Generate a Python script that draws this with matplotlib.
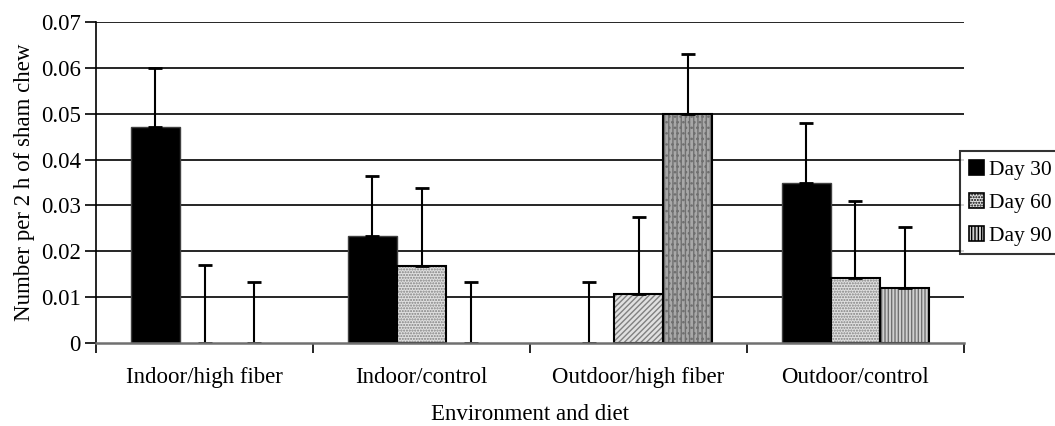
import matplotlib
matplotlib.use("Agg")
import matplotlib.pyplot as plt
import numpy as np
from matplotlib.patches import Patch

categories = ["Indoor/high fiber", "Indoor/control", "Outdoor/high fiber", "Outdoor/control"]
series = ["Day 30", "Day 60", "Day 90"]
day30 = [0.047, 0.0233, 0.0, 0.035]
day60 = [0.0, 0.0168, 0.0106, 0.0142]
day90 = [0.0, 0.0, 0.050, 0.012]
err30 = [0.013, 0.0132, 0.0134, 0.013]
err60 = [0.017, 0.017, 0.0169, 0.0167]
err90 = [0.0133, 0.0133, 0.0131, 0.0133]
yticks = [0, 0.01, 0.02, 0.03, 0.04, 0.05, 0.06, 0.07]
ytick_labels = ["0", "0.01", "0.02", "0.03", "0.04", "0.05", "0.06", "0.07"]

values = [day30, day60, day90]
errors = [err30, err60, err90]

plt.rcParams['font.family'] = ['Liberation Serif', 'DejaVu Serif']
FS = 16.5

fig = plt.figure(figsize=(10.55, 4.26), dpi=100)
ax = fig.add_axes([96/1055, 1-343/426, (964-96)/1055, (343-22)/426])

# styles per series; per-bar overrides
face = ['black', '#e0e0e0', '#d0d0d0']
hatch_col = [None, '#808080', '#707070']
hatch_def = [None, '......', '|||||']
hatch_override = {(1, 2): '//////', (2, 2): '||||...'}
face_override = {(2, 2): '#a8a8a8'}

w = 0.226
x = np.arange(len(categories))
offsets = [-w, 0, w]

for s in range(3):
    for i in range(len(categories)):
        v = values[s][i]
        xp = x[i] + offsets[s]
        if v > 0:
            fc = face_override.get((s, i), face[s])
            h = hatch_override.get((s, i), hatch_def[s])
            if h is not None:
                ax.bar(xp, v, w, color=fc, edgecolor=hatch_col[s], hatch=h,
                       linewidth=0, zorder=3)
                ax.bar(xp, v, w, fill=False, edgecolor='black', linewidth=1.5, zorder=4)
            else:
                ax.bar(xp, v, w, color=fc, edgecolor='#404040', linewidth=1.0, zorder=3)
        ax.errorbar(xp, v, yerr=[[0], [errors[s][i]]], fmt='none', ecolor='black',
                    elinewidth=1.5, capsize=5, capthick=2, zorder=5)

ax.set_xlim(-0.5, 3.5)
ax.set_ylim(0, 0.07)
ax.set_yticks(yticks)
ax.set_yticklabels(ytick_labels, fontsize=FS)
for yv in yticks[1:]:
    ax.axhline(yv, color='black', linewidth=1.2, zorder=1)

ax.set_xticks([-0.5, 0.5, 1.5, 2.5, 3.5])
ax.set_xticklabels([])
ax.set_xticks(x, minor=True)
ax.set_xticklabels(categories, minor=True, fontsize=FS)
ax.tick_params(axis='x', which='major', direction='out', length=7, width=1.2, color='black')
ax.tick_params(axis='x', which='minor', length=0, pad=17)
ax.tick_params(axis='y', direction='out', length=8, width=1.2, pad=3)

for sp in ['top', 'right']:
    ax.spines[sp].set_visible(False)
ax.spines['left'].set_color('black')
ax.spines['left'].set_linewidth(1.2)
ax.spines['bottom'].set_color('#707070')
ax.spines['bottom'].set_linewidth(1.8)
ax.spines['bottom'].set_zorder(6)

ax.set_xlabel("Environment and diet", fontsize=FS)
ax.xaxis.label.set_va('baseline')
ax.xaxis.set_label_coords(0.5, (6 - 83) / 321)
ax.set_ylabel("Number per 2 h of sham chew", fontsize=FS, labelpad=4)

handles = [
    Patch(facecolor='black', edgecolor='black', linewidth=1.2),
    Patch(facecolor=face[1], edgecolor='black', hatch='......', linewidth=1.2),
    Patch(facecolor=face[2], edgecolor='black', hatch='|||||', linewidth=1.2),
]
leg = fig.legend(handles, series, loc='upper left', bbox_to_anchor=(960/1055, 1-151/426),
                 fontsize=15.5, frameon=True, fancybox=False, edgecolor='black',
                 handlelength=0.7, handleheight=0.7, handletextpad=0.25,
                 borderpad=0.4, labelspacing=0.6, borderaxespad=0)
leg.get_frame().set_linewidth(1.5)

fig.savefig("out.png", dpi=100)
